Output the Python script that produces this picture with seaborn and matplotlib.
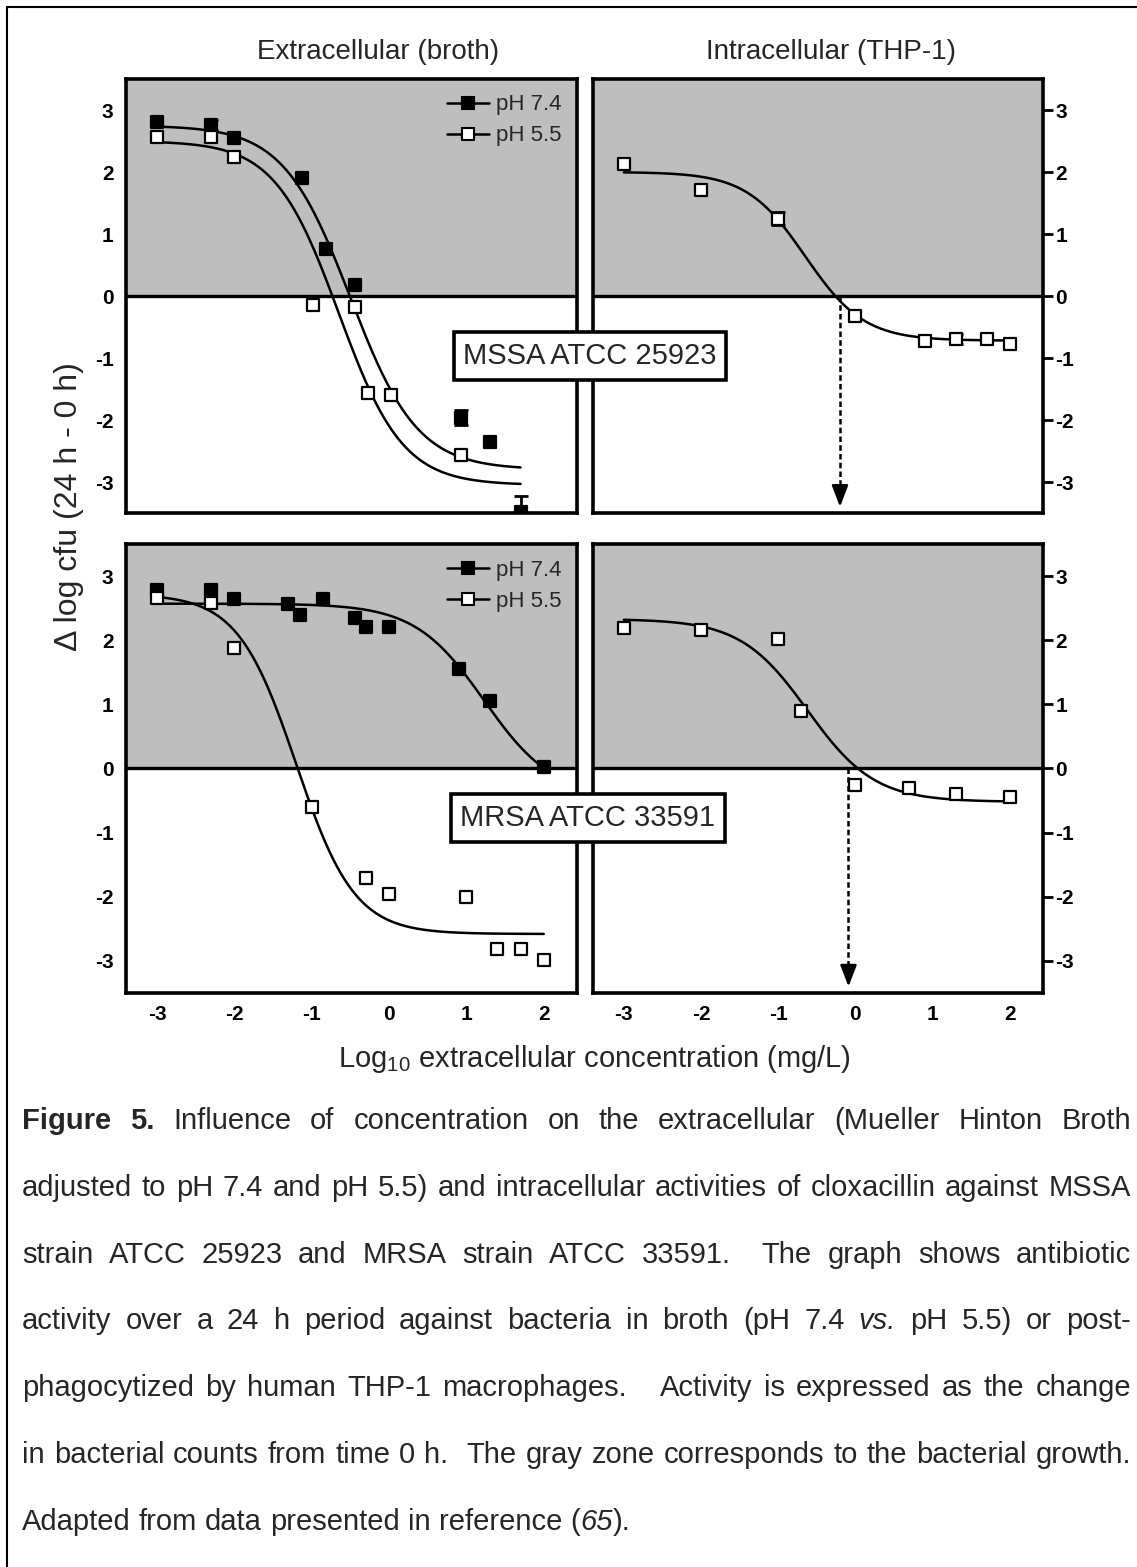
import re
import numpy as np
import matplotlib
matplotlib.use("Agg")
import matplotlib.pyplot as plt
import seaborn as sns
from matplotlib.lines import Line2D
from matplotlib.patches import Rectangle

# values (log10 mg/L, delta log cfu)
conc_ticks = [-3, -2, -1, 0, 1, 2]
effect_ticks = [-3, -2, -1, 0, 1, 2, 3]

mssa_ext_x74 = [-3, -2.3, -2, -1.12, -0.82, -0.44, 0.93, 1.3, 1.7]
mssa_ext_y74 = [2.81, 2.76, 2.55, 1.9, 0.76, 0.17, -1.96, -2.35, -3.48]
mssa_ext_e74 = [0, 0.08, 0, 0, 0, 0, 0.12, 0, 0.25]
mssa_ext_x55 = [-3, -2.3, -2, -0.98, -0.44, -0.27, 0.03, 0.93]
mssa_ext_y55 = [2.57, 2.57, 2.24, -0.14, -0.18, -1.57, -1.6, -2.56]

mssa_int_x = [-3, -2, -1, 0, 0.9, 1.3, 1.7, 2]
mssa_int_y = [2.13, 1.71, 1.25, -0.32, -0.72, -0.70, -0.70, -0.78]
mssa_int_e = [0, 0, 0.1, 0, 0, 0.08, 0, 0]

mrsa_ext_x74 = [-3, -2.3, -2, -1.3, -1.15, -0.85, -0.44, -0.3, 0, 0.9, 1.3, 2]
mrsa_ext_y74 = [2.79, 2.79, 2.64, 2.56, 2.39, 2.64, 2.35, 2.2, 2.21, 1.55, 1.05, 0.02]
mrsa_ext_x55 = [-3, -2.3, -2, -1, -0.3, 0, 1, 1.4, 1.7, 2]
mrsa_ext_y55 = [2.66, 2.58, 1.88, -0.6, -1.71, -1.96, -2.01, -2.81, -2.81, -2.99]

mrsa_int_x = [-3, -2, -1, -0.7, 0, 0.7, 1.3, 2]
mrsa_int_y = [2.19, 2.16, 2.02, 0.89, -0.26, -0.31, -0.40, -0.44]

# sigmoid fits: top, bottom, log EC50, slope, x start, x end
mssa_ext_fit74 = (2.75, -2.8, -0.5, 1.0, -3, 1.7)
mssa_ext_fit55 = (2.5, -3.05, -0.65, 1.05, -3, 1.7)
mssa_int_fit = (2.0, -0.72, -0.65, 1.14, -3, 2)
mrsa_ext_fit74 = (2.57, -0.45, 1.23, 0.97, -3, 2)
mrsa_ext_fit55 = (2.72, -2.58, -1.2, 1.15, -3, 2)
mrsa_int_fit = (2.33, -0.52, -0.62, 1.0, -3, 2)

# static concentration (arrows)
mssa_static = -0.2
mrsa_static = -0.09

caption_lines = [
    "*Figure* *5.* Influence of concentration on the extracellular (Mueller Hinton Broth",
    "adjusted to pH 7.4 and pH 5.5) and intracellular activities of cloxacillin against MSSA",
    "strain ATCC 25923 and MRSA strain ATCC 33591.  The graph shows antibiotic",
    "activity over a 24 h period against bacteria in broth (pH 7.4 _vs._ pH 5.5) or post-",
    "phagocytized by human THP-1 macrophages.   Activity is expressed as the change",
    "in bacterial counts from time 0 h.  The gray zone corresponds to the bacterial growth.",
    "Adapted from data presented in reference (_65_).",
]

W, H = 1137, 1567
GRAY = "#bebebe"

sns.set_theme(style="white", rc={"axes.edgecolor": "black"})
plt.rcParams["font.family"] = ["Liberation Sans", "DejaVu Sans"]
plt.rcParams["mathtext.fontset"] = "custom"
plt.rcParams["mathtext.rm"] = "Liberation Sans"
plt.rcParams["mathtext.it"] = "Liberation Sans:italic"
plt.rcParams["mathtext.bf"] = "Liberation Sans:bold"

fig = plt.figure(figsize=(W / 100, H / 100), dpi=100)


def px_axes(x0, y0, x1, y1):
    return fig.add_axes([x0 / W, 1 - y1 / H, (x1 - x0) / W, (y1 - y0) / H])


def hill(x, top, bottom, logec, slope):
    return bottom + (top - bottom) / (1 + 10 ** ((x - logec) * slope))


def draw_fit(ax, fit):
    top, bottom, logec, slope, xa, xb = fit
    xs = np.linspace(xa, xb, 300)
    sns.lineplot(x=xs, y=hill(xs, top, bottom, logec, slope), ax=ax,
                 color="black", lw=1.8, zorder=3)


def draw_points(ax, x, y, filled, err=None):
    if err is not None:
        ex = [a for a, e in zip(x, err) if e > 0]
        ey = [b for b, e in zip(y, err) if e > 0]
        ee = [e for e in err if e > 0]
        ax.errorbar(ex, ey, yerr=ee, fmt="none", ecolor="black",
                    elinewidth=2, capsize=5, capthick=2, zorder=4)
    sns.scatterplot(x=x, y=y, ax=ax, marker="s", s=64,
                    color="black" if filled else "white",
                    edgecolor="black", linewidth=1.6, zorder=5, legend=False)


def style_axes(ax, right=False, bottom=False):
    ax.set_xlim(-3.4, 2.43)
    ax.set_ylim(-3.5, 3.5)
    ax.axhspan(0, 3.5, color=GRAY, lw=0, zorder=0)
    ax.axhline(0, color="black", lw=2.4, zorder=2)
    ax.set_yticks(effect_ticks)
    ax.set_yticklabels([str(t) for t in effect_ticks])
    if right:
        ax.yaxis.tick_right()
    if bottom:
        ax.set_xticks(conc_ticks)
        ax.set_xticklabels([str(t) for t in conc_ticks])
    else:
        ax.set_xticks([])
    ax.tick_params(axis="both", direction="out", length=7, width=2,
                   labelsize=15, pad=2, colors="black")
    for lab in ax.get_xticklabels() + ax.get_yticklabels():
        lab.set_fontweight("bold")
    for sp in ax.spines.values():
        sp.set_linewidth(2.6)
        sp.set_color("black")
        sp.set_zorder(6)
    ax.set_xlabel("")
    ax.set_ylabel("")


def draw_arrow(ax, x):
    ax.plot([x, x], [0, -3.1], color="black", lw=1.8, ls=(0, (2.2, 1.3)), zorder=3)
    ax.annotate("", xy=(x, -3.4), xytext=(x, -3.05),
                arrowprops=dict(arrowstyle="-|>,head_length=0.65,head_width=0.25",
                                color="black", lw=1.8, mutation_scale=20,
                                shrinkA=0, shrinkB=0), zorder=3)


def add_legend(ax):
    handles = [
        Line2D([], [], color="black", lw=1.8, marker="s", ms=8, mfc="black",
               mec="black", mew=1.5, label="pH 7.4"),
        Line2D([], [], color="black", lw=1.8, marker="s", ms=8, mfc="white",
               mec="black", mew=1.5, label="pH 5.5"),
    ]
    ax.legend(handles=handles, loc="upper right", bbox_to_anchor=(0.975, 0.975),
              frameon=False, fontsize=16, handlelength=1.9, handletextpad=0.3,
              labelspacing=0.45, borderaxespad=0, borderpad=0.2)


ax_tl = px_axes(126, 79, 577, 513)
ax_tr = px_axes(593, 79, 1043, 513)
ax_bl = px_axes(126, 544, 577, 993)
ax_br = px_axes(593, 544, 1043, 993)

# MSSA, broth
style_axes(ax_tl)
draw_fit(ax_tl, mssa_ext_fit74)
draw_fit(ax_tl, mssa_ext_fit55)
draw_points(ax_tl, mssa_ext_x74, mssa_ext_y74, True, mssa_ext_e74)
draw_points(ax_tl, mssa_ext_x55, mssa_ext_y55, False)
add_legend(ax_tl)

# MSSA, THP-1
style_axes(ax_tr, right=True)
draw_arrow(ax_tr, mssa_static)
draw_fit(ax_tr, mssa_int_fit)
draw_points(ax_tr, mssa_int_x, mssa_int_y, False, mssa_int_e)

# MRSA, broth
style_axes(ax_bl, bottom=True)
draw_fit(ax_bl, mrsa_ext_fit74)
draw_fit(ax_bl, mrsa_ext_fit55)
draw_points(ax_bl, mrsa_ext_x74, mrsa_ext_y74, True)
draw_points(ax_bl, mrsa_ext_x55, mrsa_ext_y55, False)
add_legend(ax_bl)

# MRSA, THP-1
style_axes(ax_br, right=True, bottom=True)
draw_arrow(ax_br, mrsa_static)
draw_fit(ax_br, mrsa_int_fit)
draw_points(ax_br, mrsa_int_x, mrsa_int_y, False)


def ftext(x, y, s, **kw):
    return fig.text(x / W, 1 - y / H, s, **kw)


ftext(378, 52, "Extracellular (broth)", ha="center", va="center", fontsize=20)
ftext(831, 52, "Intracellular (THP-1)", ha="center", va="center", fontsize=20)
ftext(69, 507, "\u0394 log cfu (24 h - 0 h)", ha="center", va="center",
      rotation=90, fontsize=23)
ftext(594, 1059, "Log$_{10}$ extracellular concentration (mg/L)",
      ha="center", va="center", fontsize=21)

box = dict(boxstyle="square,pad=0.33", fc="white", ec="black", lw=2.6)
ftext(590, 356, "MSSA ATCC 25923", ha="center", va="center", fontsize=21,
      bbox=box, zorder=10)
ftext(588, 818, "MRSA ATCC 33591", ha="center", va="center", fontsize=21,
      bbox=box, zorder=10)

# page frame
fig.add_artist(Rectangle((7 / W, -0.01), 1.0, 1 - 7 / H + 0.01,
                         transform=fig.transFigure, fill=False,
                         ec="black", lw=1.5))

# justified caption
renderer = fig.canvas.get_renderer()
cap_size = 21
cap_left, cap_right = 22, 1131
cap_y0, cap_dy = 1119, 66.8
piece_re = re.compile(r"\*([^*]+)\*|_([^_]+)_|([^*_]+)")
space_px = cap_size * 100 / 72 * 0.278

for i, line in enumerate(caption_lines):
    words, gaps, pending = [], [], 0
    for c in line.split(" "):
        if c == "":
            pending += 1
            continue
        if words:
            gaps.append(pending + 1)
        pending = 0
        words.append(c)
    base = 1 - (cap_y0 + i * cap_dy + 10) / H
    placed = []
    for w in words:
        pieces = []
        for m in piece_re.finditer(w):
            bold, ital, plain = m.groups()
            txt = bold or ital or plain
            t = fig.text(0, base, txt, fontsize=cap_size, va="baseline",
                         fontweight="bold" if bold else "normal",
                         fontstyle="italic" if ital else "normal")
            pieces.append((t, t.get_window_extent(renderer).width))
        placed.append(pieces)
    total = sum(pw for p in placed for _, pw in p)
    last = i == len(caption_lines) - 1
    sp = space_px if last else (cap_right - cap_left - total) / sum(gaps)
    x = cap_left
    for k, pieces in enumerate(placed):
        for t, pw in pieces:
            t.set_x(x / W)
            x += pw
        if k < len(gaps):
            x += sp * gaps[k]

fig.savefig("out.png", dpi=100)
